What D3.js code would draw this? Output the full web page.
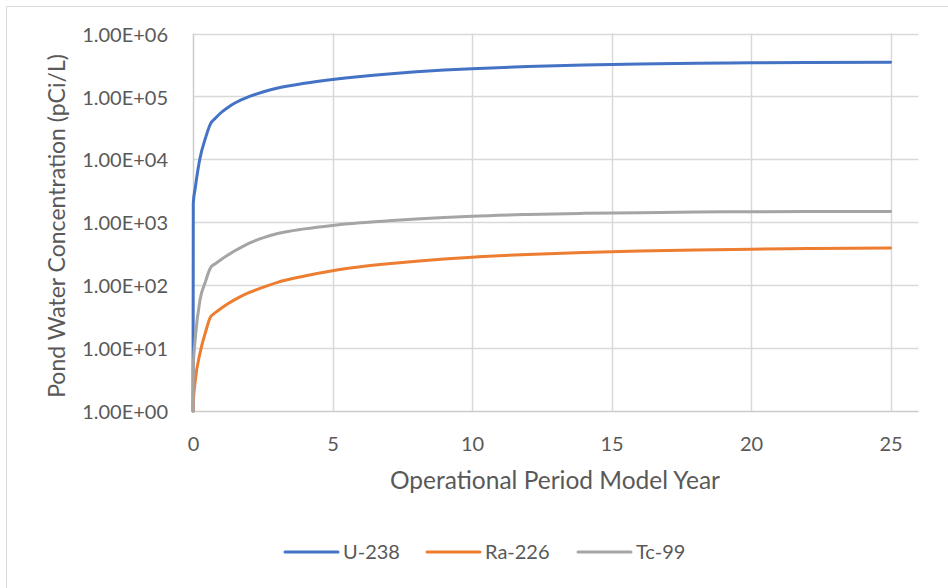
<!DOCTYPE html>
<html>
<head>
<meta charset="utf-8">
<script src="https://cdn.jsdelivr.net/npm/d3@7"></script>
<style>
  html, body { margin: 0; padding: 0; background: #fff; }
  svg { display: block; }
  text { font-family: Lato, "Open Sans", sans-serif; fill: #595959; }
</style>
</head>
<body>
<svg id="chart" width="948" height="588"></svg>
<script>
// Model years sampled for the pond water concentration
const years = [0, 0.01, 0.08, 0.25, 0.45, 0.63, 0.8, 1, 1.25, 1.5, 2, 2.5, 3, 4, 5, 6, 7, 8, 9, 10, 12, 14, 16, 18, 20, 22, 25];

// Concentrations (pCi/L) for each radionuclide
const u238  = [1, 2000, 3500, 10400, 22000, 36900, 44900, 55000, 66800, 78500, 98900, 117500, 135000, 162000, 186000, 208000, 228000, 246000, 262000, 276000, 298000, 315000, 328000, 337000, 343000, 347000, 350000];
const ra226 = [1, 1.3, 3, 8.3, 18, 31.4, 36.5, 42.7, 50.7, 58.9, 75.9, 92.3, 110, 140, 170, 196, 219, 240, 260, 279, 307, 330, 348, 362, 373, 382, 391];
const tc99  = [1, 5, 14, 58, 115, 190, 219, 254, 301, 352, 463, 564, 655, 785, 891, 980, 1055, 1125, 1190, 1250, 1330, 1385, 1420, 1450, 1468, 1476, 1482];

const seriesNames = ["U-238", "Ra-226", "Tc-99"];
const seriesValues = [u238, ra226, tc99];
const seriesColors = ["#4472C4", "#ED7D31", "#A5A5A5"];

const xTicks = [0, 5, 10, 15, 20, 25];
const yTicks = [1, 10, 100, 1000, 10000, 100000, 1000000];

const svg = d3.select("#chart");

// outer chart frame (top and left edges visible)
svg.append("path")
  .attr("d", "M6.5,588 V6.5 H948")
  .attr("fill", "none")
  .attr("stroke", "#D9D9D9")
  .attr("stroke-width", 1);

const plot = { left: 193, right: 918.5, top: 33.5, bottom: 411 };

const x = d3.scaleLinear().domain([0, 26]).range([plot.left, plot.right]);
const y = d3.scaleLog().domain([1, 1e6]).range([plot.bottom, plot.top]);

// horizontal gridlines
svg.append("g")
  .selectAll("line")
  .data(yTicks)
  .join("line")
  .attr("x1", plot.left).attr("x2", plot.right)
  .attr("y1", d => Math.round(y(d)) + 0.5).attr("y2", d => Math.round(y(d)) + 0.5)
  .attr("stroke", d => d === 1 ? "#CCCCCC" : "#D9D9D9")
  .attr("stroke-width", 1.5);

// vertical gridlines
svg.append("g")
  .selectAll("line")
  .data(xTicks)
  .join("line")
  .attr("x1", d => Math.round(x(d)) + 0.5).attr("x2", d => Math.round(x(d)) + 0.5)
  .attr("y1", plot.top).attr("y2", plot.bottom)
  .attr("stroke", d => d === 0 ? "#CCCCCC" : "#D9D9D9")
  .attr("stroke-width", 1.5);

// y axis tick labels
const yAxis = d3.axisLeft(y)
  .tickValues(yTicks)
  .tickSize(0)
  .tickPadding(25)
  .tickFormat(d => {
    const e = Math.round(Math.log10(d));
    return "1.00E+" + String(e).padStart(2, "0");
  });
const gy = svg.append("g").attr("transform", `translate(${plot.left},0)`).call(yAxis);
gy.select(".domain").remove();
gy.selectAll("text")
  .style("font-family", "Lato, 'Open Sans', sans-serif")
  .style("font-size", "20px")
  .attr("fill", "#595959")
  .attr("dy", "0.38em");

// x axis tick labels
const xAxis = d3.axisBottom(x)
  .tickValues(xTicks)
  .tickSize(0)
  .tickPadding(40)
  .tickFormat(d3.format("d"));
const gx = svg.append("g").attr("transform", `translate(0,${plot.bottom})`).call(xAxis);
gx.select(".domain").remove();
gx.selectAll("text")
  .style("font-family", "Lato, 'Open Sans', sans-serif")
  .style("font-size", "20px")
  .attr("fill", "#595959")
  .attr("dy", "0");

// axis titles
svg.append("text")
  .attr("x", 555)
  .attr("y", 489)
  .attr("text-anchor", "middle")
  .style("font-size", "24.5px")
  .text("Operational Period Model Year");

svg.append("text")
  .attr("transform", `translate(65,226) rotate(-90)`)
  .attr("text-anchor", "middle")
  .style("font-size", "23px")
  .text("Pond Water Concentration (pCi/L)");

// series lines
const line = d3.line()
  .x(d => x(d[0]))
  .y(d => y(d[1]))
  .curve(d3.curveMonotoneX);

svg.append("g")
  .selectAll("path")
  .data(seriesValues)
  .join("path")
  .attr("d", vals => line(years.map((yr, i) => [yr, vals[i]])))
  .attr("fill", "none")
  .attr("stroke", (d, i) => seriesColors[i])
  .attr("stroke-width", 3)
  .attr("stroke-linejoin", "round")
  .attr("stroke-linecap", "round");

// legend
const legendX = [285, 427, 578];
const legend = svg.append("g");
seriesNames.forEach((name, i) => {
  legend.append("line")
    .attr("x1", legendX[i]).attr("x2", legendX[i] + 53)
    .attr("y1", 552).attr("y2", 552)
    .attr("stroke", seriesColors[i])
    .attr("stroke-width", 3)
    .attr("stroke-linecap", "round");
  legend.append("text")
    .attr("x", legendX[i] + 58)
    .attr("y", 559)
    .style("font-size", "20px")
    .text(name);
});
</script>
</body>
</html>
